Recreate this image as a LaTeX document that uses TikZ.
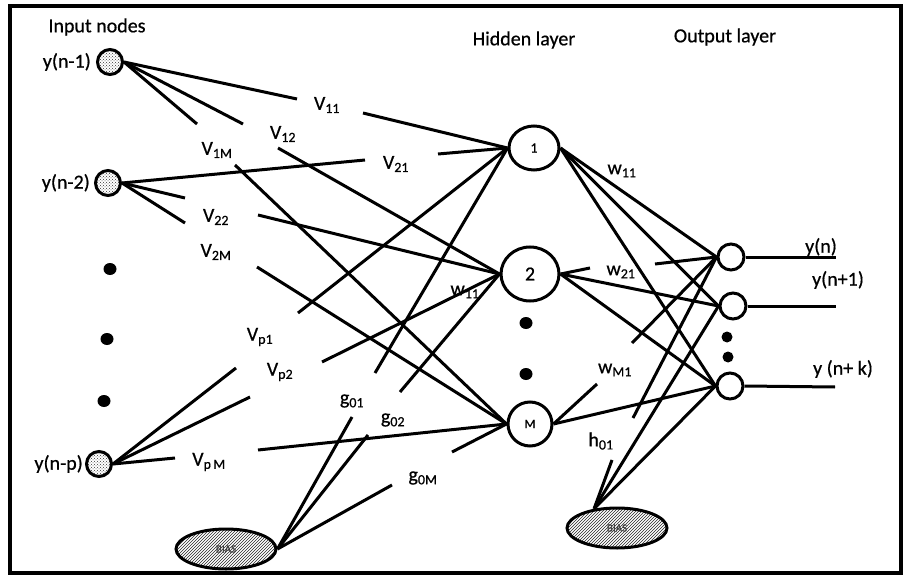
\documentclass[tikz,border=0pt]{standalone}
\usepackage{fontspec}
\setmainfont{Carlito}[FakeBold=0.6]
\usetikzlibrary{patterns,shapes.geometric}
\begin{document}
\begin{tikzpicture}[x=1pt,y=-1pt,
  conn/.style={line width=3pt},
  lab/.style={font=\fontsize{20}{24}\selectfont, inner sep=0pt},
  innode/.style={circle,draw,line width=3pt,minimum size=25pt,inner sep=0pt,pattern=crosshatch dots,pattern color=black!80},
  hid/.style={ellipse,draw,line width=3pt,inner sep=0pt},
  outnode/.style={circle,draw,line width=3pt,minimum size=26pt,inner sep=0pt},
  blob/.style={ellipse,fill=black,inner sep=0pt,minimum width=13pt,minimum height=12pt},
  biasnode/.style={ellipse,draw,line width=3pt,minimum width=100pt,minimum height=40pt,inner sep=0pt,pattern=north east lines,pattern color=black!85},
  biastext/.style={font=\fontsize{11}{12}\selectfont, text=black!75}
]
\useasboundingbox (0,0) rectangle (904,577);
\draw[line width=3.5pt] (10,6) rectangle (901,573);

% headers
\node[lab] (hin) at (97,27) {Input nodes};
\node[lab] (hhid) at (524,40) {Hidden layer};
\node[lab] (hout) at (725,37) {Output layer};

% input nodes
\node[innode] (in1) at (110,62) {};
\node[innode] (in2) at (108,183) {};
\node[innode] (inp) at (99,464) {};
\node[lab,anchor=east] (lin1) at (91,62) {y(n-1)};
\node[lab,anchor=east] (lin2) at (90,183) {y(n-2)};
\node[lab,anchor=east] (linp) at (83,464) {y(n-p)};
\node[blob] (id1) at (110,269) {};
\node[blob] (id2) at (107,339) {};
\node[blob] (id3) at (104,401) {};

% hidden nodes
\node[hid,minimum width=50pt,minimum height=44pt] (h1) at (534,148) {\fontsize{14}{15}\selectfont 1};
\node[hid,minimum width=58pt,minimum height=54pt] (h2) at (530,274) {\fontsize{20}{22}\selectfont 2};
\node[hid,minimum width=44pt,minimum height=44pt] (hM) at (530,424) {\fontsize{13}{14}\selectfont M};
\node[blob] (hd1) at (526,323) {};
\node[blob] (hd2) at (526,374) {};

% output nodes
\node[outnode] (o1) at (731,257) {};
\node[outnode] (o2) at (733,306) {};
\node[outnode] (o3) at (730,386) {};
\node[blob,minimum width=11pt,minimum height=11pt] (od1) at (727,337) {};
\node[blob,minimum width=11pt,minimum height=11pt] (od2) at (728,357) {};
\coordinate (e1) at (836,257);
\coordinate (e2) at (836,306);
\coordinate (e3) at (835,387);
\draw[conn] (o1.east) -- (e1);
\draw[conn] (o2.east) -- (e2);
\draw[conn] (o3.east) -- (e3);
\node[lab] (lo1) at (821,247) {y(n)};
\node[lab] (lo2) at (838,280) {y(n+1)};
\node[lab] (lo3) at (843,369) {y (n+ k)};

% bias nodes
\node[biasnode] (b1) at (226,549) {};
\node[biastext] at (b1) {BIAS};
\node[biasnode] (b2) at (617,528) {};
\node[biastext] at (b2) {BIAS};

% gap coordinates (input -> hidden)
\coordinate (c1a) at (297,99);  \coordinate (c1b) at (363,113);
\coordinate (c2a) at (243,124); \coordinate (c2b) at (278,148);
\coordinate (c3a) at (197,124); \coordinate (c3b) at (235,165);
\coordinate (c4a) at (365,160); \coordinate (c4b) at (438,154);
\coordinate (c5a) at (185,198); \coordinate (c5b) at (258,215);
\coordinate (c6a) at (185,223); \coordinate (c6b) at (257,267);
\coordinate (c7a) at (236,368); \coordinate (c7b) at (298,313);
\coordinate (c8a) at (250,397); \coordinate (c8b) at (322,362);
\coordinate (c9a) at (175,458); \coordinate (c9b) at (258,450);
\coordinate (d1a) at (352,417); \coordinate (d1b) at (375,373);
\coordinate (d2a) at (368,435); \coordinate (d2b) at (400,392);
\coordinate (d3a) at (392,485); \coordinate (d3b) at (452,452);

\draw[conn] (in1.east) -- (c1a); \draw[conn] (c1b) -- (h1.west);
\draw[conn] (in1.east) -- (c2a); \draw[conn] (c2b) -- (h2.west);
\draw[conn] (in1.east) -- (c3a); \draw[conn] (c3b) -- (hM.west);
\draw[conn] (in2.east) -- (c4a); \draw[conn] (c4b) -- (h1.west);
\draw[conn] (in2.east) -- (c5a); \draw[conn] (c5b) -- (h2.west);
\draw[conn] (in2.east) -- (c6a); \draw[conn] (c6b) -- (hM.west);
\draw[conn] (inp.east) -- (c7a); \draw[conn] (c7b) -- (h1.west);
\draw[conn] (inp.east) -- (c8a); \draw[conn] (c8b) -- (h2.west);
\draw[conn] (inp.east) -- (c9a); \draw[conn] (c9b) -- (hM.west);
\draw[conn] (b1.east) -- (d1a); \draw[conn] (d1b) -- (h1.west);
\draw[conn] (b1.east) -- (d2a); \draw[conn] (d2b) -- (h2.west);
\draw[conn] (b1.east) -- (d3a); \draw[conn] (d3b) -- (hM.west);

% hidden -> output
\coordinate (e4a) at (590,268); \coordinate (e4b) at (655,264);
\coordinate (e5a) at (597,384); \coordinate (e5b) at (632,343);
\coordinate (e6a) at (612,460); \coordinate (e6b) at (633,418);
\draw[conn] (h1.east) -- (o1.west);
\draw[conn] (h1.east) -- (o2.west);
\draw[conn] (h1.east) -- (o3.west);
\draw[conn] (h2.east) -- (e4a); \draw[conn] (e4b) -- (o1.west);
\draw[conn] (h2.east) -- (o2.west);
\draw[conn] (h2.east) -- (o3.west);
\draw[conn] (hM.east) -- (e5a); \draw[conn] (e5b) -- (o1.west);
\draw[conn] (hM.east) -- (o3.west);
\draw[conn] (b2.140) -- (e6a); \draw[conn] (e6b) -- (o1.west);
\draw[conn] (b2.140) -- (o2.west);
\draw[conn] (b2.140) -- (o3.west);

% weight labels
\node[lab] (v11) at (327,105) {V\textsubscript{11}};
\node[lab] (v12) at (283,134) {V\textsubscript{12}};
\node[lab] (v1m) at (217,150) {V\textsubscript{1M}};
\node[lab] (v21) at (396,164) {V\textsubscript{21}};
\node[lab] (v22) at (216,217) {V\textsubscript{22}};
\node[lab] (v2m) at (216,252) {V\textsubscript{2M}};
\node[lab] (vp1) at (260,337) {V\textsubscript{p1}};
\node[lab] (vp2) at (280,372) {V\textsubscript{p2}};
\node[lab] (vpm) at (209,462) {V\textsubscript{p\,M}};
\node[lab] (w11a) at (465,292) {w\textsubscript{11}};
\node[lab] (g01) at (352,401) {g\textsubscript{01}};
\node[lab] (g02) at (393,420) {g\textsubscript{02}};
\node[lab] (g0m) at (423,478) {g\textsubscript{0M}};
\node[lab] (w11) at (622,171) {w\textsubscript{11}};
\node[lab] (w21) at (621,272) {w\textsubscript{21}};
\node[lab] (wm1) at (615,370) {w\textsubscript{M1}};
\node[lab] (h01) at (601,441) {h\textsubscript{01}};
\end{tikzpicture}
\end{document}
